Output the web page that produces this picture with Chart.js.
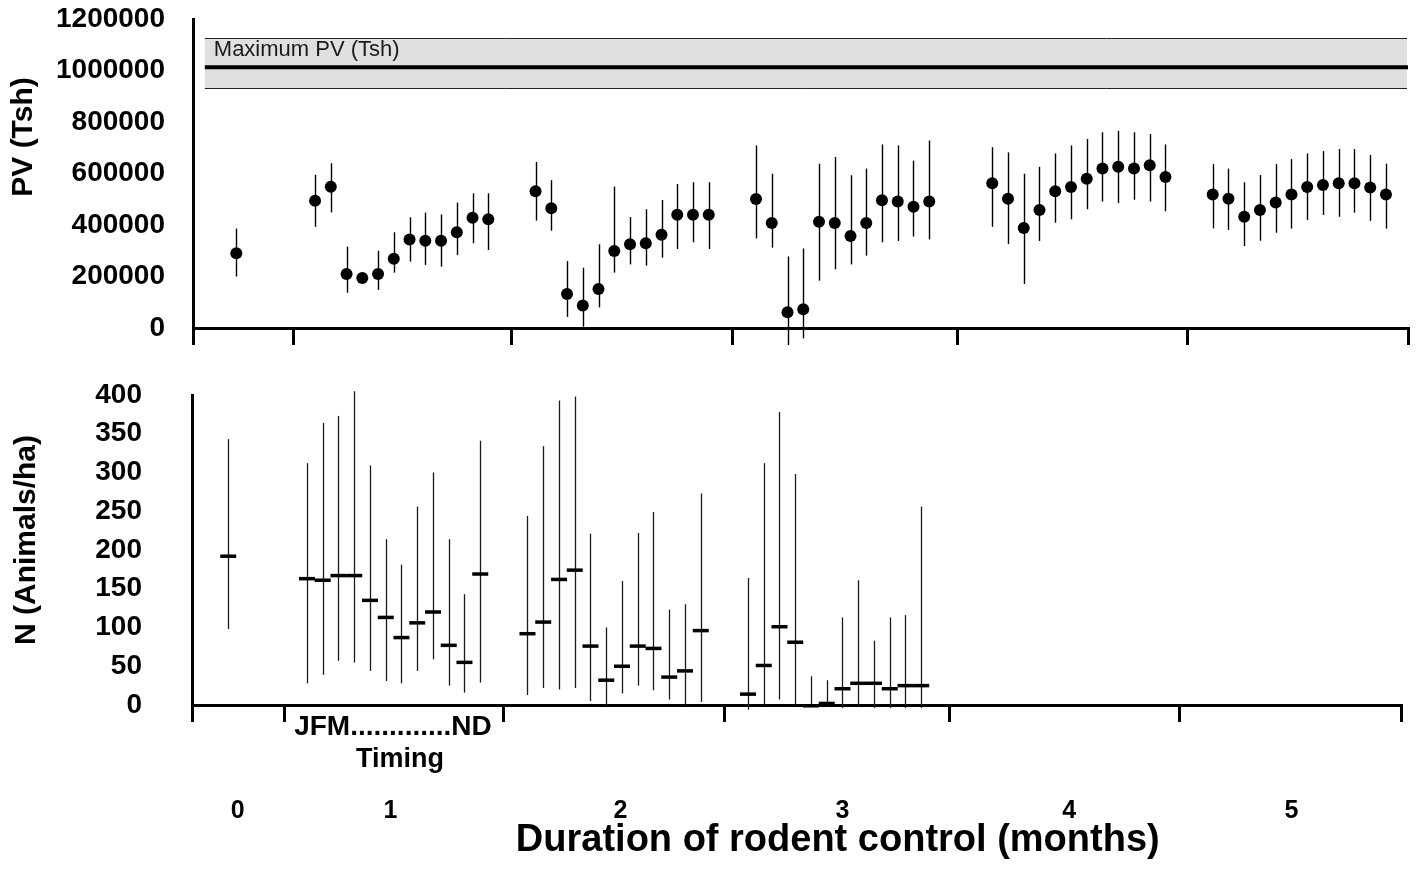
<!DOCTYPE html>
<html>
<head>
<meta charset="utf-8">
<script src="https://cdn.jsdelivr.net/npm/chart.js@4/dist/chart.umd.min.js"></script>
<style>
  body { margin: 0; background: #fff; }
  #wrap { position: relative; width: 1423px; height: 881px; }
  canvas { position: absolute; left: 0; }
  #pvChart { top: 0; }
  #nChart { top: 360px; }
</style>
</head>
<body>
<div id="wrap">
  <canvas id="pvChart" width="1423" height="360"></canvas>
  <canvas id="nChart" width="1423" height="521"></canvas>
</div>
<script>
const FONT = "'Liberation Sans', Arial, sans-serif";

// x positions (month slot along the control timeline)
const pvSlots = [3,
  8, 9, 10, 11, 12, 13, 14, 15, 16, 17, 18, 19,
  22, 23, 24, 25, 26, 27, 28, 29, 30, 31, 32, 33,
  36, 37, 38, 39, 40, 41, 42, 43, 44, 45, 46, 47,
  51, 52, 53, 54, 55, 56, 57, 58, 59, 60, 61, 62,
  65, 66, 67, 68, 69, 70, 71, 72, 73, 74, 75, 76];

// PV (Tsh) mean and error bar ends
const pvMean = [290000,
  494000, 549000, 210000, 194000, 210000, 269000, 344000, 339000, 339000, 372000, 428000, 422000,
  531000, 465000, 132000, 87000, 151000, 299000, 325000, 329000, 362000, 440000, 440000, 440000,
  501000, 408000, 61000, 73000, 413000, 408000, 357000, 408000, 496000, 491000, 471000, 491000,
  562000, 502000, 388000, 458000, 531000, 548000, 580000, 619000, 626000, 619000, 632000, 586000,
  518000, 502000, 432000, 458000, 487000, 518000, 548000, 555000, 562000, 562000, 546000, 518000];
const pvHigh = [386000,
  595000, 640000, 316000, 215000, 300000, 372000, 430000, 448000, 441000, 487000, 523000, 523000,
  645000, 574000, 260000, 234000, 325000, 549000, 431000, 461000, 497000, 559000, 566000, 566000,
  709000, 599000, 278000, 309000, 638000, 664000, 593000, 619000, 713000, 709000, 650000, 728000,
  702000, 682000, 599000, 626000, 678000, 709000, 734000, 760000, 766000, 760000, 753000, 713000,
  637000, 619000, 566000, 594000, 637000, 656000, 678000, 687000, 695000, 695000, 672000, 638000];
const pvLow = [200000,
  393000, 449000, 137000, 175000, 148000, 215000, 258000, 245000, 238000, 283000, 329000, 303000,
  417000, 378000, 43000, 5000, 80000, 215000, 247000, 242000, 273000, 307000, 333000, 307000,
  348000, 312000, -66000, -40000, 184000, 228000, 247000, 281000, 333000, 338000, 355000, 344000,
  393000, 326000, 171000, 338000, 409000, 422000, 461000, 491000, 485000, 498000, 491000, 453000,
  387000, 381000, 318000, 339000, 370000, 386000, 419000, 439000, 432000, 448000, 416000, 386000];

// maximum PV band
const maxPv = 1013000;
const maxPvHigh = 1126000;
const maxPvLow = 931000;
const bandStart = 1;

// N (animals/ha), only first 3 months observed
const nSlots = pvSlots.slice(0, 37);
const nMean = [192,
  163, 161, 167, 167, 135, 113, 87, 106, 120, 77, 55, 169,
  92, 107, 162, 174, 76, 32, 50, 76, 73, 36, 44, 96,
  14, 51, 101, 81, -1, 2, 21, 28, 28, 21, 25, 25];
const nHigh = [343,
  312, 364, 373, 405, 309, 214, 181, 256, 300, 214, 143, 341,
  244, 334, 393, 398, 221, 100, 160, 222, 249, 123, 130, 273,
  164, 312, 378, 298, 37, 32, 113, 161, 83, 113, 116, 256];
const nLow = [98,
  28, 39, 57, 55, 44, 31, 28, 44, 59, 25, 16, 29,
  13, 22, 20, 22, 5, 0, 15, 25, 19, 7, 0, 4,
  -6, 0, 7, 0, -2, -2, -4, -2, -4, -4, -4, -4];

// axis boundaries between months and month labels
const groupBounds = [6.6, 20.5, 34.5, 48.8, 63.4];
const groupLabels = ["0", "1", "2", "3", "4", "5"];
const groupLabelPos = [3.6, 13.3, 27.9, 42.0, 56.4, 70.5];
const pvRange = [0.25, 77.4];
const nRange = [0.7, 77.46];

function drawErrorBars(chart, slots, low, high, color, width) {
  const { ctx, scales: { x, y } } = chart;
  ctx.save();
  ctx.strokeStyle = color;
  ctx.lineWidth = width;
  slots.forEach((s, i) => {
    const px = Math.round(x.getPixelForValue(s)) + 0.5;
    ctx.beginPath();
    ctx.moveTo(px, y.getPixelForValue(low[i]));
    ctx.lineTo(px, y.getPixelForValue(high[i]));
    ctx.stroke();
  });
  ctx.restore();
}

function rotatedText(ctx, text, cx, cy, font) {
  ctx.save();
  ctx.translate(cx, cy);
  ctx.rotate(-Math.PI / 2);
  ctx.font = font;
  ctx.fillStyle = "#000";
  ctx.textAlign = "center";
  ctx.textBaseline = "middle";
  ctx.fillText(text, 0, 0);
  ctx.restore();
}

const pvDecor = {
  id: "pvDecor",
  beforeDatasetsDraw(chart) {
    const { ctx, chartArea, scales: { x, y } } = chart;
    const left = x.getPixelForValue(bandStart);
    const right = chartArea.right - 1;
    const yTop = Math.round(y.getPixelForValue(maxPvHigh)) + 0.5;
    const yBot = Math.round(y.getPixelForValue(maxPvLow)) + 0.5;
    const yMid = y.getPixelForValue(maxPv);
    ctx.save();
    ctx.fillStyle = "#e0e0e0";
    ctx.fillRect(left, yTop, right - left, yBot - yTop);
    ctx.strokeStyle = "#222";
    ctx.lineWidth = 1;
    ctx.beginPath();
    ctx.moveTo(left, yTop); ctx.lineTo(right, yTop);
    ctx.moveTo(left, yBot); ctx.lineTo(right, yBot);
    ctx.stroke();
    ctx.strokeStyle = "#000";
    ctx.lineWidth = 4;
    ctx.beginPath();
    ctx.moveTo(left, yMid); ctx.lineTo(chartArea.right, yMid);
    ctx.stroke();
    ctx.font = "22px " + FONT;
    ctx.fillStyle = "#1a1a1a";
    ctx.textBaseline = "alphabetic";
    ctx.fillText("Maximum PV (Tsh)", left + 9, yTop + 17);
    ctx.restore();
    drawErrorBars(chart, pvSlots, pvLow, pvHigh, "#000", 1.4);
  },
  afterDraw(chart) {
    rotatedText(chart.ctx, "PV (Tsh)", 24, 137, "bold 30px " + FONT);
  }
};

const nDecor = {
  id: "nDecor",
  beforeDatasetsDraw(chart) {
    drawErrorBars(chart, nSlots, nLow, nHigh, "#1a1a1a", 1.3);
  },
  afterDraw(chart) {
    const { ctx, chartArea, scales: { x } } = chart;
    const b = chartArea.bottom;
    rotatedText(ctx, "N (Animals/ha)", 27, 180, "bold 30px " + FONT);
    ctx.save();
    ctx.fillStyle = "#000";
    ctx.textAlign = "center";
    ctx.textBaseline = "alphabetic";
    ctx.font = "bold 28px " + FONT;
    ctx.fillText("JFM.............ND", x.getPixelForValue(13.46), b + 30);
    ctx.font = "bold 27px " + FONT;
    ctx.fillText("Timing", x.getPixelForValue(13.9), b + 62);
    ctx.font = "bold 25px " + FONT;
    groupLabels.forEach((t, i) => {
      ctx.fillText(t, x.getPixelForValue(groupLabelPos[i]), b + 113);
    });
    ctx.font = "bold 38px " + FONT;
    ctx.fillText("Duration of rodent control (months)", x.getPixelForValue(41.7), b + 146);
    ctx.restore();
  }
};

function xAxis(range, height) {
  return {
    type: "linear",
    min: range[0],
    max: range[1],
    afterBuildTicks: (s) => {
      s.ticks = [range[0], ...groupBounds, range[1]].map((v) => ({ value: v }));
    },
    afterFit: (s) => { s.height = height; },
    ticks: { display: false },
    grid: { display: true, drawOnChartArea: false, drawTicks: true, tickLength: 17, tickWidth: 3, tickColor: "#000", lineWidth: 3, color: "#000" },
    border: { display: true, width: 3, color: "#000" }
  };
}

function yAxis(max, step, width, pad, fontSize) {
  return {
    min: 0,
    max: max,
    afterFit: (s) => {
      s.width = width;
      // keep the label padding from pushing the plot area in
      s.paddingTop = 0;
      s.paddingBottom = 0;
    },
    ticks: {
      stepSize: step,
      padding: pad,
      autoSkip: false,
      color: "#000",
      font: { family: FONT, size: fontSize, weight: "bold" },
      callback: (v) => String(v)
    },
    grid: { display: false, drawTicks: false },
    border: { display: true, width: 3, color: "#000" }
  };
}

new Chart(document.getElementById("pvChart"), {
  type: "scatter",
  data: {
    datasets: [{
      data: pvSlots.map((s, i) => ({ x: s, y: pvMean[i] })),
      pointRadius: 6,
      pointHoverRadius: 6,
      backgroundColor: "#000",
      borderColor: "#000",
      borderWidth: 0,
      clip: false
    }]
  },
  options: {
    responsive: false,
    animation: false,
    devicePixelRatio: 1,
    layout: { padding: { top: 19, right: 15, left: 0, bottom: 0 } },
    plugins: { legend: { display: false }, tooltip: { enabled: false } },
    scales: {
      x: xAxis(pvRange, 32),
      y: yAxis(1200000, 200000, 193, 28, 28)
    }
  },
  plugins: [pvDecor]
});

new Chart(document.getElementById("nChart"), {
  type: "scatter",
  data: {
    datasets: [{
      data: nSlots.map((s, i) => ({ x: s, y: nMean[i] })),
      pointStyle: "line",
      pointRadius: 8,
      pointHoverRadius: 8,
      borderColor: "#000",
      borderWidth: 3.5,
      clip: false
    }]
  },
  options: {
    responsive: false,
    animation: false,
    devicePixelRatio: 1,
    layout: { padding: { top: 35, right: 22, left: 0, bottom: 0 } },
    plugins: { legend: { display: false }, tooltip: { enabled: false } },
    scales: {
      x: xAxis(nRange, 176),
      y: yAxis(400, 50, 192, 50, 28)
    }
  },
  plugins: [nDecor]
});
</script>
</body>
</html>
